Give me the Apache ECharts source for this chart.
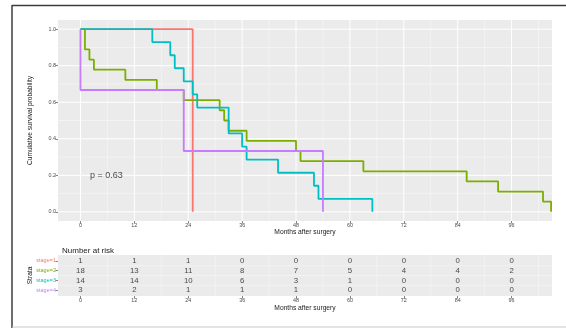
<!DOCTYPE html>
<html>
<head>
<meta charset="utf-8">
<script src="https://cdn.jsdelivr.net/npm/echarts@6/dist/echarts.min.js"></script>
<style>
html,body{margin:0;padding:0;background:#fff;}
#chart{width:566px;height:328px;}
</style>
</head>
<body>
<div id="chart"></div>
<script>
// ---- data ----
const strata = ['stage=1', 'stage=2', 'stage=3', 'stage=4'];
const colors = ['#F8766D', '#7CAE00', '#00BFC4', '#C77CFF'];

const stage1Time = [0, 25];
const stage1Surv = [1, 0];
const stage2Time = [0, 1, 2, 3, 10, 17, 23, 31, 32, 33, 37, 48, 49, 63, 86, 93, 103, 104.8];
const stage2Surv = [1, 0.889, 0.833, 0.778, 0.722, 0.667, 0.611, 0.556, 0.5, 0.444, 0.389, 0.333, 0.278, 0.222, 0.167, 0.111, 0.056, 0];
const stage3Time = [0, 16, 20, 21, 23, 25, 26, 33, 36, 37, 44, 52, 53, 65];
const stage3Surv = [1, 0.929, 0.857, 0.786, 0.714, 0.643, 0.571, 0.429, 0.357, 0.286, 0.214, 0.143, 0.071, 0];
const stage4Time = [0, 0, 23, 54];
const stage4Surv = [1, 0.667, 0.333, 0];

const xTicks = [0, 12, 24, 36, 48, 60, 72, 84, 96];
const xMinor = [6, 18, 30, 42, 54, 66, 78, 90, 102];
const yTicks = [0, 0.2, 0.4, 0.6, 0.8, 1.0];
const yMinor = [0.1, 0.3, 0.5, 0.7, 0.9];

const riskTimes = [0, 12, 24, 36, 48, 60, 72, 84, 96];
const risk1 = [1, 1, 1, 0, 0, 0, 0, 0, 0];
const risk2 = [18, 13, 11, 8, 7, 5, 4, 4, 2];
const risk3 = [14, 14, 10, 6, 3, 1, 0, 0, 0];
const risk4 = [3, 2, 1, 1, 1, 0, 0, 0, 0];

const pText = 'p = 0.63';
// ---- build ----
const FONT = '"Liberation Sans", Arial, sans-serif';
const times = [stage1Time, stage2Time, stage3Time, stage4Time];
const survs = [stage1Surv, stage2Surv, stage3Surv, stage4Surv];
const risks = [risk1, risk2, risk3, risk4];
const XMIN = -5, XMAX = 105, YMIN = -0.05, YMAX = 1.05;

function zip(a, b) { return a.map((v, i) => [v, b[i]]); }
function vLines(xs, y0, y1) { const d = []; xs.forEach(x => { d.push([x, y0], [x, y1], null); }); return d; }
function hLines(ys, x0, x1) { const d = []; ys.forEach(y => { d.push([x0, y], [x1, y], null); }); return d; }
function gridSeries(xi, data, width, opacity) {
  return {
    type: 'line', xAxisIndex: xi, yAxisIndex: xi, z: 1, data: data, symbol: 'none', connectNulls: false,
    lineStyle: { color: '#ffffff', width: width, opacity: opacity }, silent: true, animation: false
  };
}

const series = [];
series.push(gridSeries(0, vLines(xMinor, YMIN, YMAX).concat(hLines(yMinor, XMIN, XMAX)), 0.5, 0.8));
series.push(gridSeries(0, vLines(xTicks, YMIN, YMAX).concat(hLines(yTicks, XMIN, XMAX)), 1, 1));
series.push(gridSeries(1, vLines(xMinor, 0.4, 4.6).concat(hLines([1.5, 2.5, 3.5], XMIN, XMAX)), 0.5, 0.7));

for (let i = 0; i < 4; i++) {
  series.push({
    name: strata[i], type: 'line', step: 'end', xAxisIndex: 0, yAxisIndex: 0,
    data: zip(times[i], survs[i]), symbol: 'none', z: 3 + i,
    lineStyle: { color: colors[i], width: 1.8 }, animation: false, silent: true
  });
}
series.push({
  type: 'scatter', xAxisIndex: 0, yAxisIndex: 0, data: [[2, 0.2]], symbolSize: 1,
  itemStyle: { color: 'rgba(0,0,0,0)' }, silent: true, animation: false, z: 10,
  label: { show: true, position: 'right', distance: 0, formatter: pText, color: '#1a1a1a', fontSize: 9, fontFamily: FONT }
});
const riskData = [];
for (let i = 0; i < 4; i++) {
  for (let j = 0; j < riskTimes.length; j++) riskData.push([riskTimes[j], i + 1, risks[i][j]]);
}
series.push({
  type: 'scatter', xAxisIndex: 1, yAxisIndex: 1, data: riskData, symbolSize: 1,
  itemStyle: { color: 'rgba(0,0,0,0)' }, silent: true, animation: false, z: 10,
  labelLayout: { hideOverlap: false },
  label: { show: true, position: 'inside', formatter: p => String(p.value[2]), color: '#1a1a1a', fontSize: 7.8, fontFamily: FONT }
});

const tickLabelStyle = { color: '#4D4D4D', fontSize: 5.4, fontFamily: FONT };
const rich = {};
strata.forEach((s, i) => { rich['s' + i] = { color: colors[i], fontSize: 5.5, fontFamily: FONT }; });

function xAxisDef(gi, gap) {
  return {
    type: 'value', gridIndex: gi, min: XMIN, max: XMAX, position: 'bottom',
    name: 'Months after surgery', nameLocation: 'middle', nameGap: gap, nameMoveOverlap: false,
    nameTextStyle: { fontSize: 6.7, color: '#1a1a1a', fontFamily: FONT },
    axisLine: { show: false, onZero: false }, splitLine: { show: false },
    axisTick: { show: true, length: 2.5, lineStyle: { color: '#333', width: 0.6 }, customValues: xTicks },
    axisLabel: Object.assign({ margin: 2, customValues: xTicks }, tickLabelStyle)
  };
}

const option = {
  backgroundColor: '#ffffff',
  animation: false,
  title: {
    text: 'Number at risk', left: 57, top: 242,
    textStyle: { fontSize: 8, fontWeight: 'normal', color: '#1a1a1a', fontFamily: FONT }
  },
  grid: [
    { left: 58, top: 20, width: 494, height: 201, show: true, backgroundColor: '#EBEBEB', borderWidth: 0 },
    { left: 58, top: 255, width: 494, height: 41, show: true, backgroundColor: '#EBEBEB', borderWidth: 0 }
  ],
  xAxis: [xAxisDef(0, 8), xAxisDef(1, 9)],
  yAxis: [
    {
      type: 'value', gridIndex: 0, min: YMIN, max: YMAX, position: 'left',
      name: 'Cumulative survival probability', nameLocation: 'middle', nameGap: 24, nameRotate: 90, nameMoveOverlap: false,
      nameTextStyle: { fontSize: 6.6, color: '#1a1a1a', fontFamily: FONT },
      axisLine: { show: false, onZero: false }, splitLine: { show: false },
      axisTick: { show: true, length: 2.5, lineStyle: { color: '#333', width: 0.6 }, customValues: yTicks },
      axisLabel: Object.assign({ margin: 2, customValues: yTicks, formatter: v => v.toFixed(1) }, tickLabelStyle)
    },
    {
      type: 'value', gridIndex: 1, min: 0.4, max: 4.6, inverse: true, position: 'left',
      name: 'Strata', nameLocation: 'middle', nameGap: 24, nameRotate: 90, nameMoveOverlap: false,
      nameTextStyle: { fontSize: 6.6, color: '#1a1a1a', fontFamily: FONT },
      axisLine: { show: false, onZero: false }, splitLine: { show: false },
      axisTick: { show: true, length: 2.5, lineStyle: { color: '#333', width: 0.6 }, customValues: [1, 2, 3, 4] },
      axisLabel: {
        margin: 2, customValues: [1, 2, 3, 4], rich: rich,
        formatter: v => '{s' + (Math.round(v) - 1) + '|' + strata[Math.round(v) - 1] + '}'
      }
    }
  ],
  graphic: [
    { type: 'line', shape: { x1: 12, y1: 5.5, x2: 566, y2: 5.5 }, style: { stroke: '#3c3c3c', lineWidth: 1.5 }, silent: true },
    { type: 'line', shape: { x1: 12, y1: 5, x2: 12, y2: 328 }, style: { stroke: '#3c3c3c', lineWidth: 1.5 }, silent: true },
    { type: 'line', shape: { x1: 12, y1: 327, x2: 566, y2: 327 }, style: { stroke: '#c8c8c8', lineWidth: 1 }, silent: true }
  ],
  series: series
};

const chart = echarts.init(document.getElementById('chart'), null, { renderer: 'canvas' });
chart.setOption(option);
</script>
</body>
</html>
